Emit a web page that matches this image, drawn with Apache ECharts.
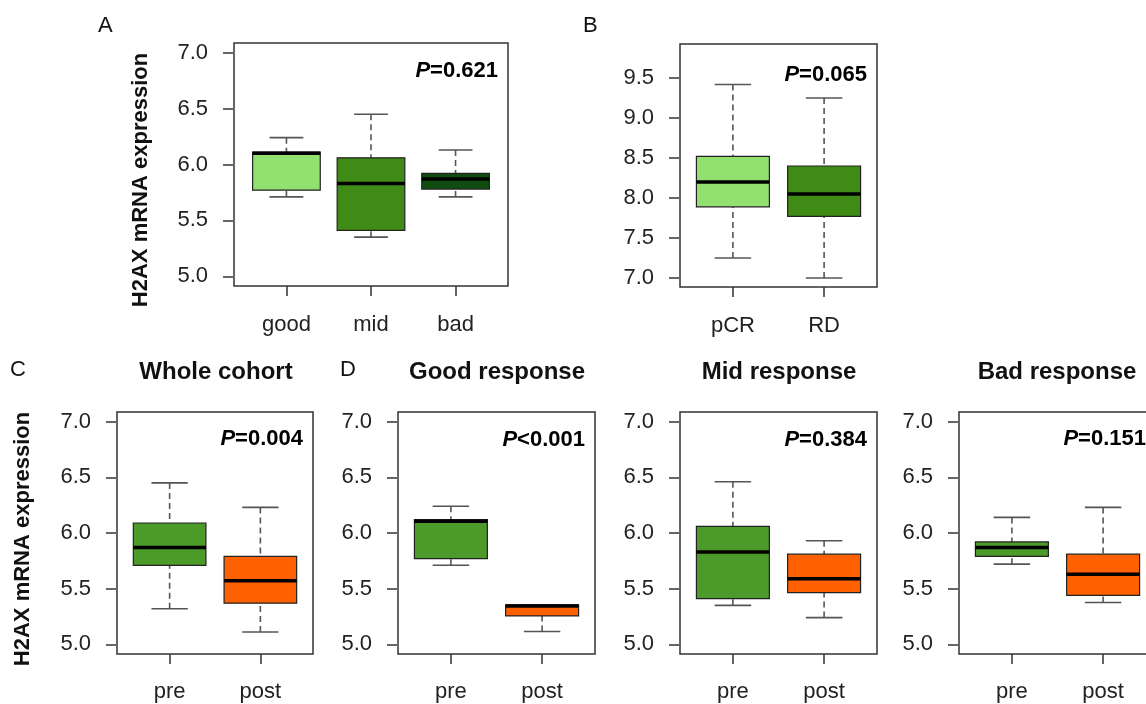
<!DOCTYPE html>
<html>
<head>
<meta charset="utf-8">
<title>H2AX mRNA expression</title>
<script src="https://cdn.jsdelivr.net/npm/echarts@6/dist/echarts.min.js"></script>
<style>
html, body { margin: 0; padding: 0; background: #fff; }
#chart { width: 1146px; height: 704px; }
</style>
</head>
<body>
<div id="chart"></div>
<script>
// groups on the x axes
const respGroups = ['good', 'mid', 'bad']
const pcrGroups = ['pCR', 'RD']
const timeGroups = ['pre', 'post']

// box stats, each row: [lower whisker, Q1, median, Q3, upper whisker]
const respStats = [
  [5.71, 5.77, 6.10, 6.11, 6.24],
  [5.35, 5.41, 5.83, 6.06, 6.45],
  [5.71, 5.78, 5.87, 5.92, 6.13]
]
const pcrStats = [
  [7.25, 7.89, 8.20, 8.52, 9.42],
  [7.00, 7.77, 8.05, 8.40, 9.25]
]
const wholeStats = [
  [5.32, 5.71, 5.87, 6.09, 6.45],
  [5.11, 5.37, 5.57, 5.79, 6.23]
]
const goodStats = [
  [5.71, 5.77, 6.105, 6.12, 6.24],
  [5.115, 5.255, 5.345, 5.355, 5.355]
]
const midStats = [
  [5.35, 5.41, 5.83, 6.06, 6.46],
  [5.24, 5.465, 5.59, 5.81, 5.93]
]
const badStats = [
  [5.72, 5.79, 5.87, 5.92, 6.14],
  [5.375, 5.44, 5.63, 5.81, 6.23]
]

// tick labels
const exprTicks = [5.0, 5.5, 6.0, 6.5, 7.0]
const pcrTicks = [7.0, 7.5, 8.0, 8.5, 9.0, 9.5]

// p values
const pResp = '=0.621'
const pPcr = '=0.065'
const pWhole = '=0.004'
const pGood = '<0.001'
const pMid = '=0.384'
const pBad = '=0.151'

const FONT = '"Liberation Sans", Arial, Helvetica, sans-serif'
const LIGHT = '#91e070'
const MID = '#3f8b15'
const DARK = '#0f4c10'
const PRE = '#4c9a2a'
const POST = '#ff6100'

const panels = [
  { cats: respGroups, stats: respStats, colors: [LIGHT, MID, DARK], ticks: exprTicks, yr: [4.913, 7.087], p: pResp, rect: [234, 43, 274, 243], pY: 71, margin: 28 },
  { cats: pcrGroups, stats: pcrStats, colors: [LIGHT, MID], ticks: pcrTicks, yr: [6.887, 9.926], p: pPcr, rect: [680, 44, 197, 243], pY: 75, margin: 28 },
  { cats: timeGroups, stats: wholeStats, colors: [PRE, POST], ticks: exprTicks, yr: [4.913, 7.087], p: pWhole, rect: [117, 412, 196, 242], pY: 439, margin: 27 },
  { cats: timeGroups, stats: goodStats, colors: [PRE, POST], ticks: exprTicks, yr: [4.913, 7.087], p: pGood, rect: [398, 412, 197, 242], pY: 440, margin: 27 },
  { cats: timeGroups, stats: midStats, colors: [PRE, POST], ticks: exprTicks, yr: [4.913, 7.087], p: pMid, rect: [680, 412, 197, 242], pY: 440, margin: 27 },
  { cats: timeGroups, stats: badStats, colors: [PRE, POST], ticks: exprTicks, yr: [4.913, 7.087], p: pBad, rect: [959, 412, 197, 242], pY: 439, margin: 27 }
]

function renderBox (params, api) {
  const x = api.value(0)
  const lo = api.coord([x, api.value(1)])
  const q1 = api.coord([x, api.value(2)])
  const md = api.coord([x, api.value(3)])
  const q3 = api.coord([x, api.value(4)])
  const hi = api.coord([x, api.value(5)])
  const w = api.size([0.8, 0])[0]
  const cx = lo[0]
  const whisk = { stroke: '#555', lineWidth: 1.6, lineDash: [6, 4] }
  const cap = { stroke: '#555', lineWidth: 1.6 }
  return {
    type: 'group',
    children: [
      { type: 'line', shape: { x1: cx, y1: hi[1], x2: cx, y2: q3[1] }, style: whisk },
      { type: 'line', shape: { x1: cx, y1: lo[1], x2: cx, y2: q1[1] }, style: whisk },
      { type: 'line', shape: { x1: cx - w / 4, y1: hi[1], x2: cx + w / 4, y2: hi[1] }, style: cap },
      { type: 'line', shape: { x1: cx - w / 4, y1: lo[1], x2: cx + w / 4, y2: lo[1] }, style: cap },
      { type: 'rect', shape: { x: cx - w / 2, y: q3[1], width: w, height: q1[1] - q3[1] }, style: { fill: api.visual('color'), stroke: '#222', lineWidth: 1.2 } },
      { type: 'line', shape: { x1: cx - w / 2, y1: md[1], x2: cx + w / 2, y2: md[1] }, style: { stroke: '#000', lineWidth: 3.5 } }
    ]
  }
}

const grids = []
const xAxes = []
const yAxes = []
const series = []
const texts = []

panels.forEach((p, i) => {
  const n = p.cats.length
  const [left, top, width, height] = p.rect
  grids.push({
    left, top, width, height,
    show: true,
    backgroundColor: 'transparent',
    borderColor: '#333',
    borderWidth: 1.5,
    outerBoundsMode: 'none'
  })
  xAxes.push({
    type: 'value',
    gridIndex: i,
    position: 'bottom',
    min: -0.5 - 0.04 * n,
    max: n - 0.5 + 0.04 * n,
    axisLine: { show: false, onZero: false },
    splitLine: { show: false },
    axisTick: { customValues: p.cats.map((c, j) => j), length: 10, lineStyle: { color: '#333', width: 1.5 } },
    axisLabel: {
      customValues: p.cats.map((c, j) => j),
      formatter: v => p.cats[Math.round(v)],
      margin: p.margin,
      fontSize: 22,
      fontFamily: FONT,
      color: '#222'
    }
  })
  yAxes.push({
    type: 'value',
    gridIndex: i,
    position: 'left',
    min: p.yr[0],
    max: p.yr[1],
    offset: 1,
    axisLine: { show: false, onZero: false },
    splitLine: { show: false },
    axisTick: { customValues: p.ticks, length: 10, lineStyle: { color: '#333', width: 1.5 } },
    axisLabel: {
      customValues: p.ticks,
      formatter: v => v.toFixed(1),
      margin: 25,
      fontSize: 22,
      fontFamily: FONT,
      color: '#222'
    }
  })
  series.push({
    type: 'custom',
    xAxisIndex: i,
    yAxisIndex: i,
    renderItem: renderBox,
    encode: { x: 0, y: [1, 2, 3, 4, 5] },
    data: p.stats.map((s, j) => ({ value: [j].concat(s), itemStyle: { color: p.colors[j] } })),
    silent: true
  })
  texts.push({
    type: 'text',
    x: left + width - 10,
    y: p.pY,
    style: {
      text: '{i|P}{n|' + p.p + '}',
      textAlign: 'right',
      textVerticalAlign: 'middle',
      rich: {
        i: { fontStyle: 'italic', fontWeight: 'bold', fontSize: 22, fontFamily: FONT, color: '#111' },
        n: { fontWeight: 'bold', fontSize: 22, fontFamily: FONT, color: '#111' }
      }
    }
  })
})

function label (text, x, y, size, weight, align) {
  return {
    type: 'text',
    x, y,
    style: { text, fontSize: size, fontWeight: weight, fontFamily: FONT, fill: '#111', textAlign: align, textVerticalAlign: 'middle' }
  }
}

// panel letters and headers
texts.push(label('A', 98, 26, 22, 'normal', 'left'))
texts.push(label('B', 583, 26, 22, 'normal', 'left'))
texts.push(label('C', 10, 370, 22, 'normal', 'left'))
texts.push(label('D', 340, 370, 22, 'normal', 'left'))
texts.push(label('Whole cohort', 216, 372, 24, 'bold', 'center'))
texts.push(label('Good response', 497, 372, 24, 'bold', 'center'))
texts.push(label('Mid response', 779, 372, 24, 'bold', 'center'))
texts.push(label('Bad response', 1057, 372, 24, 'bold', 'center'))

// y axis titles
const yTitle = 'H2AX mRNA expression'
;[[141, 180], [23, 539]].forEach(([x, y]) => {
  const t = label(yTitle, x, y, 22, 'bold', 'center')
  t.rotation = Math.PI / 2
  texts.push(t)
})

const chart = echarts.init(document.getElementById('chart'))
chart.setOption({
  backgroundColor: '#fff',
  animation: false,
  grid: grids,
  xAxis: xAxes,
  yAxis: yAxes,
  series: series,
  graphic: { elements: texts }
})
</script>
</body>
</html>
